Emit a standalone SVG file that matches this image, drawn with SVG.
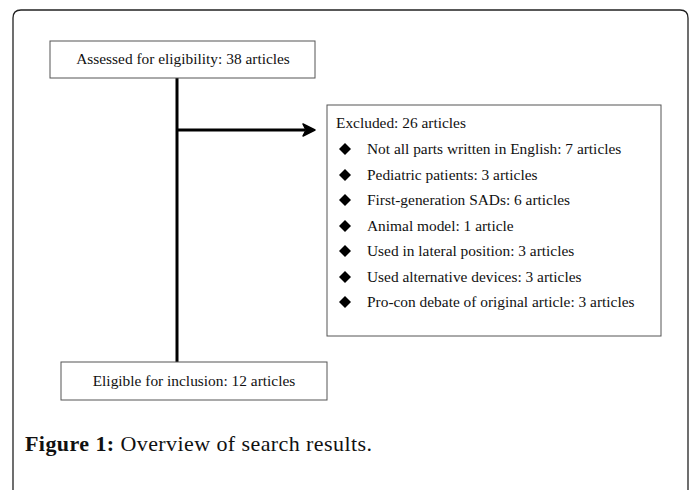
<svg xmlns="http://www.w3.org/2000/svg" width="692" height="490" viewBox="0 0 692 490">
<style>
.box{fill:#fff;stroke:#555;stroke-width:1}
.t{font-family:"Liberation Serif","Times New Roman",serif;font-size:15.4px;fill:#111}
.cap{font-family:"Liberation Serif","Times New Roman",serif;font-size:22px;fill:#111}
.ln{stroke:#000;stroke-width:3;fill:none}
</style>
<defs>
<marker id="ah" markerWidth="14" markerHeight="14" refX="12" refY="7" orient="auto" markerUnits="userSpaceOnUse">
<path d="M1,1 L12,7 L1,13 L4,7 Z" fill="#000"/>
</marker>
</defs>
<rect width="692" height="490" fill="#fff"/>
<path d="M13,500 L13,18 Q13,10 21,10 L680,10 Q688,10 688,18 L688,500" fill="none" stroke="#222" stroke-width="1.3"/>
<g id="connectors">
<line class="ln" x1="177" y1="78" x2="177" y2="363"/>
<line class="ln" x1="177" y1="130" x2="305" y2="130"/>
<path d="M303,124 L315,130 L303,136 L306,130 Z" fill="#000" stroke="#000" stroke-width="1.5" stroke-linejoin="round"/>
</g>
<g id="assessed">
<rect class="box" x="50" y="41" width="265" height="37"/>
<text class="t" x="183" y="64" text-anchor="middle">Assessed for eligibility: 38 articles</text>
</g>
<g id="excluded">
<rect class="box" x="327" y="105" width="334" height="231"/>
<text class="t" x="336" y="128">Excluded: 26 articles</text>
<g fill="#000">
<path d="M345,143 L351,149 L345,155 L339,149 Z"/>
<path d="M345,169 L351,175 L345,181 L339,175 Z"/>
<path d="M345,194 L351,200 L345,206 L339,200 Z"/>
<path d="M345,220 L351,226 L345,232 L339,226 Z"/>
<path d="M345,245 L351,251 L345,257 L339,251 Z"/>
<path d="M345,271 L351,277 L345,283 L339,277 Z"/>
<path d="M345,296 L351,302 L345,308 L339,302 Z"/>
</g>
<text class="t" x="367" y="154">Not all parts written in English: 7 articles</text>
<text class="t" x="367" y="180">Pediatric patients: 3 articles</text>
<text class="t" x="367" y="205">First-generation SADs: 6 articles</text>
<text class="t" x="367" y="231">Animal model: 1 article</text>
<text class="t" x="367" y="256">Used in lateral position: 3 articles</text>
<text class="t" x="367" y="282">Used alternative devices: 3 articles</text>
<text class="t" x="367" y="307">Pro-con debate of original article: 3 articles</text>
</g>
<g id="eligible">
<rect class="box" x="61" y="362" width="266" height="38"/>
<text class="t" x="194" y="386" text-anchor="middle">Eligible for inclusion: 12 articles</text>
</g>
<text class="cap" x="25" y="451" textLength="347" lengthAdjust="spacing"><tspan font-weight="bold">Figure 1:</tspan> Overview of search results.</text>
</svg>
